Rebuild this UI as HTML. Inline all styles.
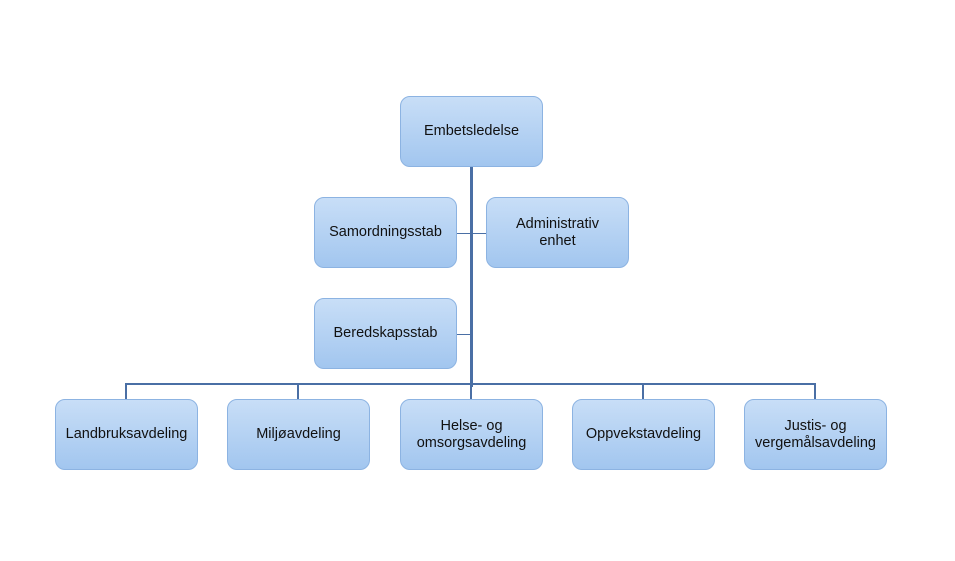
<!DOCTYPE html>
<html><head><style>
body{margin:0;width:955px;height:561px;background:#fff;position:relative;overflow:hidden;font-family:"Liberation Sans",sans-serif}
.b{position:absolute;width:143px;height:71px;box-sizing:border-box;border:1px solid #8cb3e2;border-radius:10px;background:linear-gradient(#c8def7,#a2c6ef);display:flex;align-items:center;justify-content:center;text-align:center;font-size:14.5px;color:#111;line-height:17px}
.l{position:absolute;background:#4a6fa5}
</style></head><body>
<div class="l" style="left:470px;top:166px;width:3px;height:221px"></div>
<div class="l" style="left:125px;top:383px;width:691px;height:2px"></div>
<div class="l" style="left:125px;top:383px;width:2px;height:16px"></div>
<div class="l" style="left:297px;top:383px;width:2px;height:16px"></div>
<div class="l" style="left:470px;top:383px;width:2px;height:16px"></div>
<div class="l" style="left:642px;top:383px;width:2px;height:16px"></div>
<div class="l" style="left:814px;top:383px;width:2px;height:16px"></div>
<div class="l" style="left:457px;top:233px;width:29px;height:1px"></div>
<div class="l" style="left:457px;top:334px;width:14px;height:1px"></div>
<div class="b" style="left:400px;top:96px">Embetsledelse</div>
<div class="b" style="left:314px;top:197px">Samordningsstab</div>
<div class="b" style="left:486px;top:197px">Administrativ<br>enhet</div>
<div class="b" style="left:314px;top:298px">Beredskapsstab</div>
<div class="b" style="left:55px;top:399px">Landbruksavdeling</div>
<div class="b" style="left:227px;top:399px">Miljøavdeling</div>
<div class="b" style="left:400px;top:399px">Helse- og<br>omsorgsavdeling</div>
<div class="b" style="left:572px;top:399px">Oppvekstavdeling</div>
<div class="b" style="left:744px;top:399px">Justis- og<br>vergemålsavdeling</div>
</body></html>
